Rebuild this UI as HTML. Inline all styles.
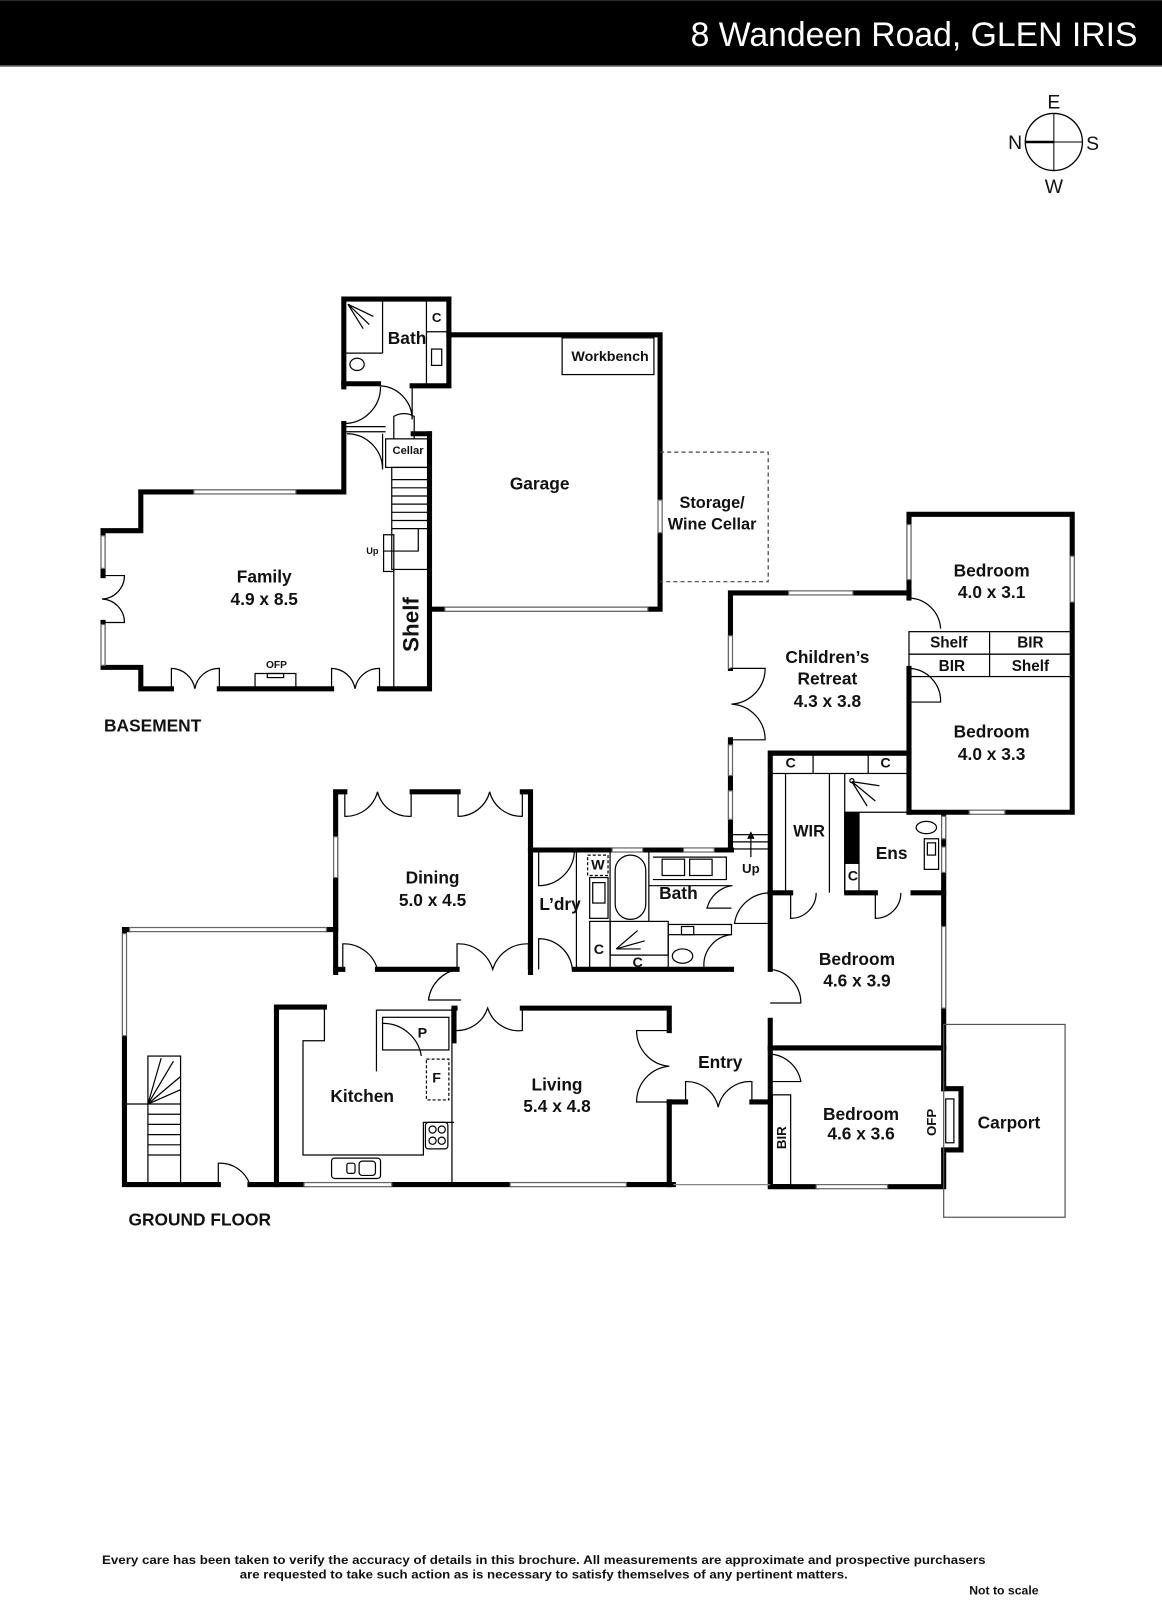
<!DOCTYPE html>
<html><head><meta charset="utf-8"><style>
html,body{margin:0;padding:0;background:#fff;}
svg{display:block}
text{font-family:"Liberation Sans",sans-serif;font-weight:bold;fill:#111;}
</style></head><body>
<svg width="1162" height="1600" viewBox="0 0 1139 1568" xmlns="http://www.w3.org/2000/svg">
<rect x="0" y="0" width="1139" height="64" fill="#000"/>
<rect x="0" y="64" width="1139" height="1.5" fill="#888"/>
<text x="1115" y="45" text-anchor="end" font-size="34" style="font-weight:normal;fill:#fff" textLength="438" lengthAdjust="spacingAndGlyphs">8 Wandeen Road, GLEN IRIS</text>
<g font-size="19" style="font-weight:normal" text-anchor="middle">
<circle cx="1033" cy="139" r="28" fill="none" stroke="#000" stroke-width="1.3"/>
<line x1="1033" y1="111" x2="1033" y2="167" stroke="#000" stroke-width="1"/>
<line x1="1005" y1="139" x2="1061" y2="139" stroke="#000" stroke-width="1"/>
<line x1="1005" y1="139" x2="1033" y2="139" stroke="#000" stroke-width="2.5"/>
<text x="1033" y="106" style="font-weight:normal">E</text>
<text x="995" y="146" style="font-weight:normal">N</text>
<text x="1071" y="147" style="font-weight:normal">S</text>
<text x="1033" y="189" style="font-weight:normal">W</text>
</g>

<g fill="none" stroke="#000" stroke-width="5" stroke-linecap="square">
<polyline points="337,379 337,293 440,293 440,378 404,378"/>
<line x1="337" y1="376" x2="371" y2="376"/>
<polyline points="440,328 647,328 647,490"/>
<polyline points="647,522 647,597 422,597"/>
<polyline points="337,415 337,482 138,482 138,520 101,520 101,564"/>
<polyline points="101,610 101,654 138,654 138,675 168,675"/>
<line x1="215" y1="675" x2="325" y2="675"/>
<polyline points="372,675 421,675 421,425"/>
<polyline points="421,425 405,425"/>
<polyline points="127,911 122,911 122,1161 214,1161"/>
<polyline points="245,1161 298,1161"/>
<line x1="384" y1="1161" x2="500" y2="1161"/>
<line x1="614" y1="1161" x2="660" y2="1161"/>
<polyline points="271,1161 271,987 318,987"/>
<polyline points="320,911 329,911 329,776 338,776"/>
<line x1="329" y1="860" x2="329" y2="953"/>
<polyline points="404,776 404,776 449,776"/>
<polyline points="512,776 520,776 520,953"/>
<line x1="370" y1="950" x2="448" y2="950"/>
<line x1="329" y1="950" x2="336" y2="950"/>
<polyline points="520,833 717,833"/>
<line x1="563" y1="950" x2="717" y2="950"/>
<polyline points="445,1020 445,988 446,988"/>
<polyline points="512,988 656,988 656,1010"/>
<polyline points="656,1080 656,1161"/>
<polyline points="656,1080 672,1080"/>
<polyline points="737,1080 755,1080 755,1163 800,1163"/>
<polyline points="870,1163 925,1163 925,1130"/>
<polyline points="925,1067 942,1067 942,1127 925,1127"/>
<line x1="925" y1="1067" x2="925" y2="800"/>
<line x1="755" y1="1027" x2="925" y2="1027"/>
<line x1="755" y1="1080" x2="755" y2="1000"/>
<line x1="755" y1="950" x2="755" y2="875"/>
<polyline points="755,875 755,738 891,738"/>
<line x1="755" y1="875" x2="775" y2="875"/>
<line x1="830" y1="875" x2="858" y2="875"/>
<line x1="895" y1="875" x2="925" y2="875"/>
<polyline points="716,655 716,581 773,581"/>
<polyline points="836,581 891,581 891,504 1051,504 1051,796 985,796"/>
<line x1="891" y1="796" x2="950" y2="796"/>
<line x1="891" y1="655" x2="891" y2="796"/>
<line x1="891" y1="581" x2="891" y2="586"/>
<line x1="716" y1="725" x2="716" y2="833"/>
</g>

<g fill="none" stroke="#000" stroke-width="1.2">
<g stroke="#666" fill="#fff">
<rect x="436" y="595" width="199" height="4"/>
<rect x="190" y="480" width="100" height="4"/>
<rect x="99" y="525" width="4" height="32"/>
<rect x="99" y="612" width="4" height="40"/>
<rect x="127" y="909" width="193" height="4"/>
<rect x="120" y="915" width="4" height="100"/>
<rect x="327" y="820" width="4" height="40"/>
<rect x="298" y="1159" width="86" height="4"/>
<rect x="500" y="1159" width="114" height="4"/>
<rect x="773" y="579" width="63" height="4"/>
<rect x="714" y="623" width="4" height="32"/>
<rect x="714" y="730" width="4" height="30"/>
<rect x="714" y="775" width="4" height="28"/>
<rect x="889" y="514" width="4" height="54"/>
<rect x="1049" y="545" width="4" height="45"/>
<rect x="950" y="794" width="35" height="4"/>
<rect x="800" y="1161" width="70" height="4"/>
<rect x="923" y="908" width="4" height="80"/>
<rect x="923" y="800" width="4" height="22"/>
<rect x="923" y="830" width="4" height="25"/>
<rect x="600" y="831" width="30" height="4"/>
<rect x="670" y="831" width="30" height="4"/>
<rect x="645" y="490" width="4" height="32"/>
</g>
<polyline points="647,443 753,443 753,570 647,570" stroke-dasharray="4,3" stroke="#444"/>
<rect x="551" y="331" width="90" height="36"/>
<line x1="337" y1="346" x2="375" y2="346"/><line x1="375" y1="293" x2="375" y2="346"/>
<line x1="418" y1="293" x2="418" y2="378"/><line x1="418" y1="325" x2="440" y2="325"/>
<rect x="423" y="342" width="10" height="16"/>
<ellipse cx="350" cy="357" rx="7" ry="6"/>
<path d="M341 298 L362 318 M341 298 L366 310 M341 298 L356 322"/>
<path d="M371 378 A33 33 0 0 1 404 411 L404 378" />
<path d="M337 415 A36 36 0 0 0 373 379"/>
<rect x="378" y="430" width="43" height="28"/>
<path d="M386 430 L386 408 A20 20 0 0 1 406 408 L406 430"/>
<path d="M337 423 L378 423 M337 418 L378 418"/>
<path d="M340 425 A35 35 0 0 1 375 460 L375 425"/>
<rect x="384" y="458" width="37" height="100"/>
<path d="M384 470 H421 M384 478 H421 M384 486 H421 M384 494 H421 M384 502 H421 M384 510 H421 M384 518 H421"/>
<rect x="376" y="524" width="10" height="36"/>
<path d="M376 540 H410 V518"/>
<line x1="386" y1="558" x2="386" y2="675"/>
<path d="M101 564 H122 A23 23 0 0 1 100 587 A23 23 0 0 1 122 610 H101"/>
<path d="M168 675 L168 655 A24 24 0 0 1 191 675 A24 24 0 0 1 215 655 L215 675"/>
<path d="M325 675 L325 655 A24 24 0 0 1 348 675 A24 24 0 0 1 372 655 L372 675"/>
<rect x="250" y="660" width="40" height="15"/><rect x="262" y="660" width="16" height="4"/>
<rect x="145" y="1035" width="32" height="126"/>
<path d="M122 1082 H145 M145 1082 H177 M145 1092 H177 M145 1102 H177 M145 1112 H177 M145 1122 H177 M145 1132 H177"/>
<path d="M145 1082 L170 1040 M145 1082 L177 1055 M145 1082 L177 1068 M145 1082 L158 1037"/>
<path d="M214 1161 L214 1140 A31 31 0 0 1 245 1161"/>
<polyline points="318,987 318,1020 297,1020 297,1132 415,1132 415,1100 445,1100"/>
<polyline points="369,1050 369,990 445,990"/>
<rect x="375" y="997" width="65" height="32"/>
<path d="M375 1003 A38 38 0 0 1 413 1035"/>
<rect x="418" y="1038" width="22" height="40" stroke-dasharray="3,2"/>
<rect x="417" y="1100" width="22" height="26" rx="3"/>
<circle cx="424" cy="1107" r="3.5"/><circle cx="433" cy="1107" r="3.5"/><circle cx="424" cy="1118" r="3.5"/><circle cx="433" cy="1118" r="3.5"/>
<rect x="325" y="1135" width="48" height="20" rx="3"/><rect x="352" y="1138" width="16" height="14" rx="3"/><rect x="340" y="1140" width="8" height="10" rx="2"/>
<line x1="443" y1="988" x2="443" y2="1161"/>
<path d="M338 776 V800 A32 32 0 0 0 370 776 A32 32 0 0 0 403 800 V776"/>
<path d="M449 776 V800 A32 32 0 0 0 480 776 A32 32 0 0 0 512 800 V776"/>
<path d="M336 950 V925 A34 34 0 0 1 370 950"/>
<path d="M448 950 V925 A35 35 0 0 1 483 950 A35 35 0 0 1 518 925 V950"/>
<path d="M448 950 A35 35 0 0 0 420 980 H452"/>
<path d="M446 988 V1010 A32 32 0 0 0 478 988 A32 32 0 0 0 512 1010 V988"/>
<line x1="565" y1="833" x2="565" y2="950"/>
<path d="M528 833 V868 A35 35 0 0 0 563 833"/>
<path d="M528 950 V920 A33 33 0 0 1 561 950"/>
<rect x="576" y="838" width="20" height="20" stroke-dasharray="3,2"/>
<rect x="578" y="860" width="18" height="40"/><rect x="581" y="865" width="12" height="20"/>
<line x1="598" y1="833" x2="598" y2="950"/>
<rect x="603" y="838" width="30" height="63" rx="15"/>
<line x1="636" y1="833" x2="636" y2="903"/>
<path d="M636 868 H718 M640 840 H712 V862 H640"/>
<rect x="649" y="842" width="22" height="16"/><rect x="676" y="842" width="22" height="16"/>
<rect x="578" y="903" width="20" height="47"/>
<rect x="598" y="903" width="57" height="33"/>
<line x1="598" y1="936" x2="655" y2="936"/>
<path d="M604 930 L625 912 M604 930 L632 922 M604 930 L628 930"/>
<rect x="655" y="906" width="62" height="10"/><rect x="668" y="908" width="12" height="8"/>
<ellipse cx="669" cy="937" rx="10" ry="7"/>
<line x1="655" y1="916" x2="655" y2="950"/>
<path d="M717 916 A30 30 0 0 0 690 948"/>
<path d="M717 868 A30 30 0 0 0 693 890 L717 890"/>
<rect x="717" y="818" width="38" height="14"/>
<line x1="717" y1="825" x2="755" y2="825"/>
<path d="M736 840 V818"/><path d="M733 822 L736 816 L739 822" fill="#000"/>
<path d="M755 875 A35 35 0 0 0 720 905 L755 905"/>
<line x1="755" y1="905" x2="755" y2="950"/>
<path d="M656 1010 H624 A35 35 0 0 0 656 1045 A35 35 0 0 0 624 1080 H656"/>
<path d="M672 1080 V1060 A32 32 0 0 1 704 1085 A32 32 0 0 1 737 1060 V1080"/>
<path d="M755 950 A33 33 0 0 1 785 983 H755"/>
<path d="M755 1033 A33 33 0 0 1 785 1060 H755"/>
<path d="M660 1161 H755" stroke="#888"/>
<rect x="757" y="1073" width="18" height="88"/>
<rect x="925" y="1004" width="119" height="189" stroke="#555"/>
<rect x="927" y="1077" width="8" height="43"/>
<rect x="755" y="740" width="136" height="18"/>
<line x1="797" y1="740" x2="797" y2="758"/><line x1="851" y1="740" x2="851" y2="758"/>
<line x1="770" y1="758" x2="770" y2="875"/>
<line x1="813" y1="758" x2="813" y2="875"/>
<rect x="828" y="796" width="14" height="50" fill="#000"/>
<line x1="828" y1="758" x2="828" y2="875"/>
<rect x="828" y="846" width="14" height="29"/>
<line x1="842" y1="796" x2="891" y2="796"/>
<path d="M835 766 L858 785 M835 766 L862 770 M835 766 L850 790"/>
<circle cx="835" cy="765" r="2"/>
<ellipse cx="908" cy="811" rx="10" ry="6"/>
<rect x="906" y="822" width="14" height="30"/><rect x="909" y="826" width="8" height="12"/>
<path d="M775 875 V900 A25 25 0 0 0 800 875"/>
<path d="M858 875 V900 A25 25 0 0 0 883 875"/>
<path d="M716 655 H750 A35 35 0 0 1 717 690 A35 35 0 0 1 750 725 H716"/>
<path d="M891 586 A32 32 0 0 1 922 616"/>
<path d="M891 655 A32 32 0 0 1 922 688 L891 688"/>
<rect x="891" y="619" width="160" height="22"/>
<rect x="891" y="641" width="160" height="22"/>
<line x1="970" y1="619" x2="970" y2="663"/>
</g>

<g text-anchor="middle" font-size="17" dominant-baseline="central">
<text x="259" y="565">Family</text><text x="259" y="587">4.9 x 8.5</text>
<text x="529" y="474">Garage</text>
<text x="598" y="350" font-size="14">Workbench</text>
<text x="400" y="442" font-size="11">Cellar</text>
<text x="399" y="331">Bath</text>
<text x="428" y="311" font-size="13">C</text>
<text x="365" y="540" font-size="9">Up</text>
<text x="0" y="0" font-size="22" transform="translate(403,612) rotate(-90)">Shelf</text>
<text x="271" y="652" font-size="10">OFP</text>
<text x="102" y="711" text-anchor="start">BASEMENT</text>
<text x="698" y="493" font-size="16">Storage/</text><text x="698" y="514" font-size="16">Wine Cellar</text>
<text x="811" y="644">Children’s</text><text x="811" y="665">Retreat</text><text x="811" y="687">4.3 x 3.8</text>
<text x="972" y="559">Bedroom</text><text x="972" y="580">4.0 x 3.1</text>
<text x="930" y="630" font-size="15">Shelf</text><text x="1010" y="630" font-size="15">BIR</text>
<text x="933" y="653" font-size="15">BIR</text><text x="1010" y="653" font-size="15">Shelf</text>
<text x="972" y="717">Bedroom</text><text x="972" y="739">4.0 x 3.3</text>
<text x="775" y="748" font-size="14">C</text><text x="868" y="748" font-size="14">C</text>
<text x="793" y="815" font-size="16">WIR</text>
<text x="874" y="836">Ens</text>
<text x="836" y="859" font-size="14">C</text>
<text x="736" y="851" font-size="13">Up</text>
<text x="424" y="860">Dining</text><text x="424" y="882">5.0 x 4.5</text>
<text x="549" y="886">L’dry</text>
<text x="586" y="848" font-size="14">W</text>
<text x="665" y="875">Bath</text>
<text x="587" y="931" font-size="14">C</text><text x="625" y="944" font-size="14">C</text>
<text x="840" y="940">Bedroom</text><text x="840" y="961">4.6 x 3.9</text>
<text x="706" y="1041">Entry</text>
<text x="546" y="1063">Living</text><text x="546" y="1084">5.4 x 4.8</text>
<text x="355" y="1074">Kitchen</text>
<text x="414" y="1013" font-size="14">P</text><text x="428" y="1057" font-size="14">F</text>
<text x="844" y="1092">Bedroom</text><text x="844" y="1111">4.6 x 3.6</text>
<text x="0" y="0" font-size="13" transform="translate(766,1115) rotate(-90)">BIR</text>
<text x="0" y="0" font-size="13" transform="translate(913,1100) rotate(-90)">OFP</text>
<text x="989" y="1100">Carport</text>
<text x="126" y="1195" text-anchor="start">GROUND FLOOR</text>
<text x="533" y="1529" font-size="12" textLength="866" lengthAdjust="spacingAndGlyphs">Every care has been taken to verify the accuracy of details in this brochure.  All measurements are approximate and prospective purchasers</text>
<text x="533" y="1543" font-size="12" textLength="596" lengthAdjust="spacingAndGlyphs">are requested to take such action as is necessary to satisfy themselves of any pertinent matters.</text>
<text x="984" y="1559" font-size="12">Not to scale</text>
</g>
</svg>
</body></html>
